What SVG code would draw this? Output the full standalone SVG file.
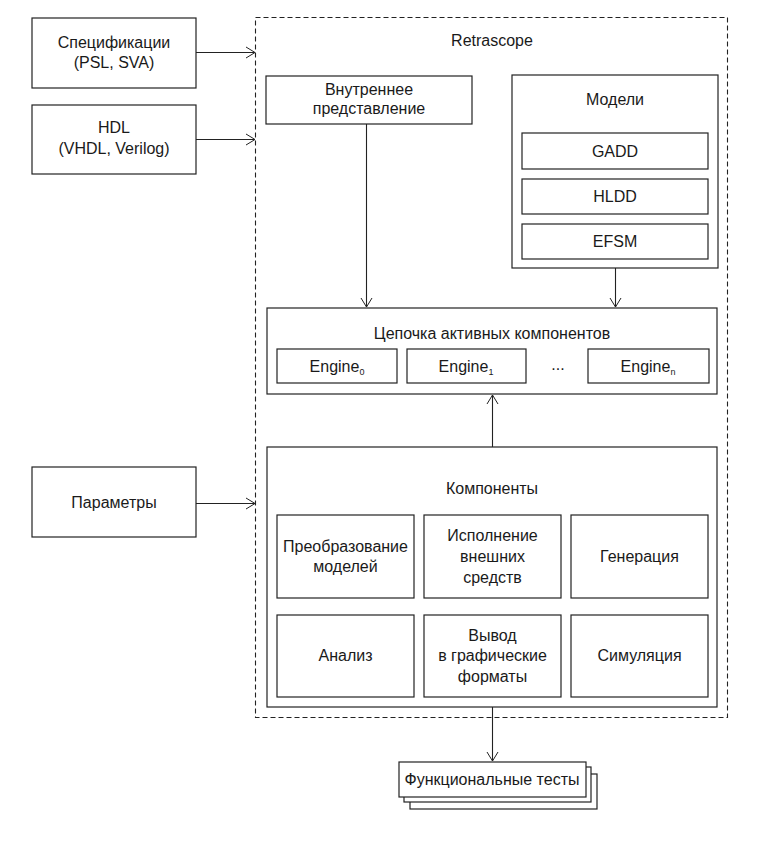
<svg xmlns="http://www.w3.org/2000/svg" width="757" height="845" viewBox="0 0 757 845">
<defs>
<marker id="arr" markerWidth="14" markerHeight="14" viewBox="0 0 14 14" refX="13" refY="7" orient="auto" markerUnits="userSpaceOnUse">
<path d="M4,1.5 L13,7 L4,12.5" fill="none" stroke="#222" stroke-width="1"/>
</marker>
<style>
.box{fill:#fff;stroke:#222;stroke-width:1.2}
.t{font-family:"Liberation Sans",Arial,sans-serif;font-size:16px;fill:#1a1a1a;text-anchor:middle}
.c{fill:none;stroke:#222;stroke-width:1.1}
.sub{font-size:9px}
</style>
</defs>
<rect width="757" height="845" fill="#fff"/>

<g id="retrascope">
<rect x="255.5" y="17.5" width="472" height="700" fill="none" stroke="#222" stroke-width="1.1" stroke-dasharray="5,3"/>
<text class="t" x="492" y="46">Retrascope</text>
</g>

<g id="spec">
<rect class="box" x="32" y="18" width="164" height="70"/>
<text class="t" x="114" y="48">Спецификации</text>
<text class="t" x="114" y="68">(PSL, SVA)</text>
</g>

<g id="hdl">
<rect class="box" x="32" y="105" width="164" height="69"/>
<text class="t" x="114" y="133">HDL</text>
<text class="t" x="114" y="154">(VHDL, Verilog)</text>
</g>

<g id="params">
<rect class="box" x="32" y="467" width="164" height="70"/>
<text class="t" x="114" y="508">Параметры</text>
</g>

<g id="internal">
<rect class="box" x="266" y="76" width="206" height="48"/>
<text class="t" x="369" y="95">Внутреннее</text>
<text class="t" x="369" y="114">представление</text>
</g>

<g id="models">
<rect class="box" x="512" y="75" width="206" height="193"/>
<text class="t" x="615" y="105">Модели</text>
<rect class="box" x="522" y="133" width="186" height="36"/>
<text class="t" x="615" y="157">GADD</text>
<rect class="box" x="522" y="179" width="186" height="35"/>
<text class="t" x="615" y="202">HLDD</text>
<rect class="box" x="522" y="224" width="186" height="35"/>
<text class="t" x="615" y="247">EFSM</text>
</g>

<g id="chain">
<rect class="box" x="267" y="308" width="450" height="86"/>
<text class="t" x="492" y="339">Цепочка активных компонентов</text>
<rect class="box" x="277" y="349" width="120" height="34"/>
<text class="t" x="337" y="372">Engine<tspan class="sub" dy="3">0</tspan></text>
<rect class="box" x="407" y="349" width="119" height="34"/>
<text class="t" x="466" y="372">Engine<tspan class="sub" dy="3">1</tspan></text>
<text class="t" x="558" y="370">...</text>
<rect class="box" x="588" y="349" width="121" height="34"/>
<text class="t" x="648" y="372">Engine<tspan class="sub" dy="3">n</tspan></text>
</g>

<g id="components">
<rect class="box" x="267" y="447" width="450" height="260"/>
<text class="t" x="492" y="494">Компоненты</text>
<rect class="box" x="277" y="515" width="137" height="83"/>
<text class="t" x="345.5" y="552">Преобразование</text>
<text class="t" x="345.5" y="572">моделей</text>
<rect class="box" x="424" y="515" width="137" height="83"/>
<text class="t" x="492.5" y="541">Исполнение</text>
<text class="t" x="492.5" y="562">внешних</text>
<text class="t" x="492.5" y="583">средств</text>
<rect class="box" x="571" y="515" width="137" height="83"/>
<text class="t" x="639.5" y="562">Генерация</text>
<rect class="box" x="277" y="615" width="137" height="82"/>
<text class="t" x="345.5" y="661">Анализ</text>
<rect class="box" x="424" y="615" width="137" height="82"/>
<text class="t" x="492.5" y="641">Вывод</text>
<text class="t" x="492.5" y="661">в графические</text>
<text class="t" x="492.5" y="682">форматы</text>
<rect class="box" x="571" y="615" width="137" height="82"/>
<text class="t" x="639.5" y="661">Симуляция</text>
</g>

<g id="tests">
<rect class="box" x="410" y="774" width="187" height="35"/>
<rect class="box" x="404" y="767" width="187" height="35"/>
<rect class="box" x="399" y="762" width="187" height="35"/>
<text class="t" x="492" y="785">Функциональные тесты</text>
</g>

<g id="connectors">
<line class="c" x1="196" y1="52.5" x2="255" y2="52.5" marker-end="url(#arr)"/>
<line class="c" x1="196" y1="139.5" x2="255" y2="139.5" marker-end="url(#arr)"/>
<line class="c" x1="196" y1="503.5" x2="255" y2="503.5" marker-end="url(#arr)"/>
<line class="c" x1="366.5" y1="124" x2="366.5" y2="307" marker-end="url(#arr)"/>
<line class="c" x1="615.5" y1="268" x2="615.5" y2="307" marker-end="url(#arr)"/>
<line class="c" x1="492.5" y1="447" x2="492.5" y2="395" marker-end="url(#arr)"/>
<line class="c" x1="492.5" y1="707" x2="492.5" y2="761" marker-end="url(#arr)"/>
</g>
</svg>
